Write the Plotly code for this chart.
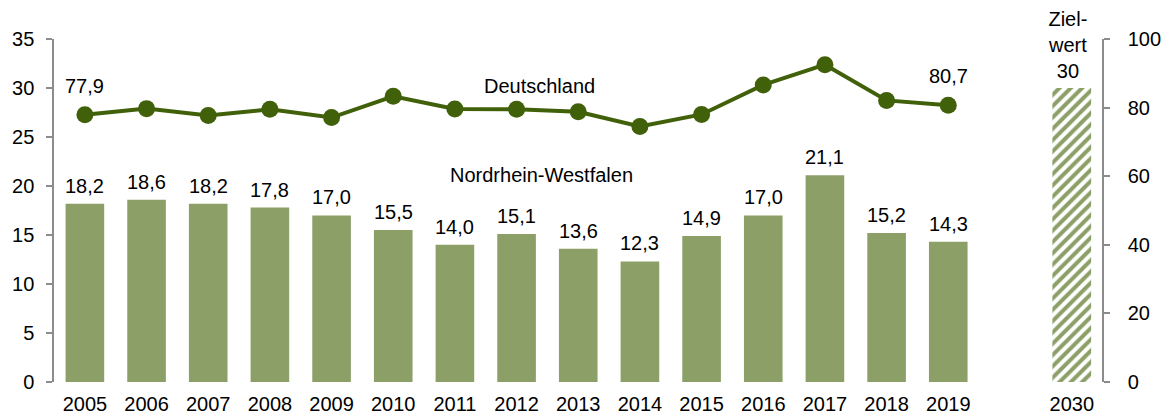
import plotly.graph_objects as go

years = [str(y) for y in range(2005, 2020)]
nrw = [18.2, 18.6, 18.2, 17.8, 17.0, 15.5, 14.0, 15.1, 13.6, 12.3, 14.9, 17.0, 21.1, 15.2, 14.3]
de = [77.9, 79.7, 77.7, 79.5, 77.1, 83.3, 79.6, 79.5, 78.8, 74.5, 78.0, 86.6, 92.5, 82.1, 80.7]
target_year = ["2030"]
target_val = [30]

bar_col = "#8b9f67"
line_col = "#41600a"
axis_col = "#8c8c8c"
font = dict(family="Liberation Sans, Arial, sans-serif", size=20, color="#000000")

fig = go.Figure()
fig.add_trace(go.Bar(
    x=years, y=nrw, xaxis="x", yaxis="y",
    marker=dict(color=bar_col, line=dict(width=0)),
    showlegend=False,
))
fig.add_trace(go.Scatter(
    x=years, y=de, xaxis="x", yaxis="y2", mode="lines+markers",
    line=dict(color=line_col, width=4),
    marker=dict(color=line_col, size=17),
    cliponaxis=False, showlegend=False,
))
fig.add_trace(go.Bar(
    x=target_year, y=target_val, xaxis="x2", yaxis="y3",
    marker=dict(color="white", line=dict(width=0),
                pattern=dict(shape="/", fgcolor=bar_col, bgcolor="white",
                             fgopacity=1, size=8, solidity=0.5, fillmode="overlay")),
    showlegend=False, width=0.62,
))

ann = []
for i, v in enumerate(nrw):
    ann.append(dict(x=i, y=v, xref="x", yref="y",
                    text=f"{v:.1f}".replace(".", ","), showarrow=False,
                    yshift=18, font=font))
for i in (0, len(years) - 1):
    ann.append(dict(x=i, y=de[i], xref="x", yref="y2",
                    text=f"{de[i]:.1f}".replace(".", ","), showarrow=False,
                    yshift=29, font=font))
ann.append(dict(x=0, y=target_val[0], xref="x2", yref="y3",
                text=f"Ziel-<br>wert<br>{target_val[0]}", showarrow=False,
                yanchor="bottom", yshift=4, xshift=-4, font=font))
ann.append(dict(x=0.4638, y=0.901, xref="paper", yref="paper", text="Deutschland",
                showarrow=False, font=font))
ann.append(dict(x=0.4657, y=0.603, xref="paper", yref="paper", text="Nordrhein-Westfalen",
                showarrow=False, font=font))

# the page body adds an 8px margin, so the figure is sized to the remaining space
fig.update_layout(
    width=1161, height=407,
    margin=dict(l=45, r=66, t=31, b=33),
    plot_bgcolor="white", paper_bgcolor="white",
    separators=",.",
    font=font,
    bargap=0.374,
    annotations=ann,
    xaxis=dict(domain=[0.001, 0.882], type="category", range=[-0.5, len(years) - 0.5],
               showline=False, ticks="", showgrid=False, tickfont=font, anchor="y",
               automargin=False, ticklabelstandoff=8),
    xaxis2=dict(domain=[0.9405, 1], type="category", range=[-0.5, 0.5],
                showline=False, ticks="", showgrid=False, tickfont=font, anchor="y3",
                automargin=False, ticklabelstandoff=8),
    yaxis=dict(range=[0, 35], dtick=5, showgrid=False, showline=True,
               linecolor=axis_col, linewidth=1.5, ticks="outside", ticklen=6,
               tickcolor=axis_col, tickwidth=1.5, tickfont=font, anchor="x",
               zeroline=False, automargin=False, ticklabelstandoff=8),
    yaxis2=dict(range=[0, 100], dtick=20, showgrid=False, showline=True,
                linecolor=axis_col, linewidth=1.5, ticks="outside", ticklen=6,
                tickcolor=axis_col, tickwidth=1.5, tickfont=font, side="right",
                overlaying="y", anchor="free", position=1, zeroline=False,
                ticklabelstandoff=14, automargin=False),
    yaxis3=dict(range=[0, 35], overlaying="y", anchor="x2", visible=False),
)

fig.write_html("out.html")
